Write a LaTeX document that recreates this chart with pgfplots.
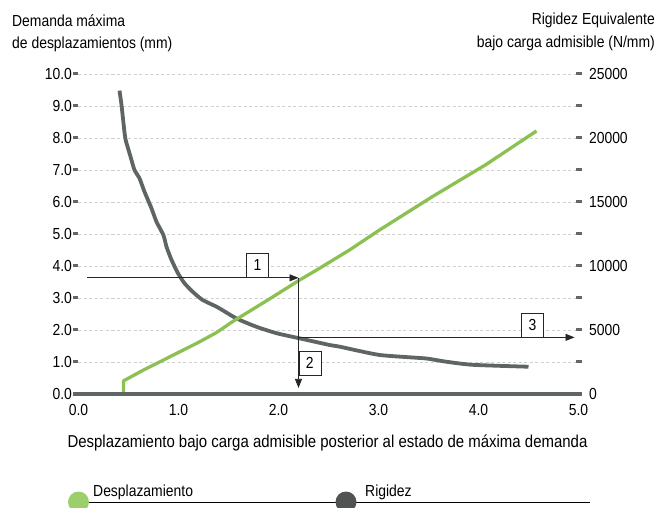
\documentclass[border=0pt]{standalone}
\usepackage{fontspec}
\setmainfont{Liberation Sans}[FakeStretch=0.87]
\usepackage{pgfplots}
\pgfplotsset{compat=1.18}
\usetikzlibrary{arrows.meta}
\definecolor{dgreen}{HTML}{8CC152}
\definecolor{dgray}{HTML}{5E6564}
\definecolor{lgreen}{HTML}{9CCF6C}
\definecolor{cgray}{HTML}{505352}
\definecolor{gridc}{HTML}{D0D0D0}
\definecolor{tickc}{HTML}{666666}
\newcommand\fs{\fontsize{16pt}{19pt}\selectfont}
\begin{document}
\begin{tikzpicture}[font=\fs]
\useasboundingbox (-78.5pt,-114pt) rectangle (587.5pt,394pt);
% right axis: grid + Rigidez
\begin{axis}[at={(0pt,0pt)}, anchor=south west, scale only axis,
  width=500pt, height=320pt, xmin=0, xmax=5, ymin=0, ymax=25000,
  axis line style={draw=none}, clip=false,
  ytick={0,2500,...,25000}, yticklabels={0,,5000,,10000,,15000,,20000,,25000},
  scaled y ticks=false, ytick pos=right, xtick=\empty,
  tick align=center, major tick length=6pt,
  ytick style={line width=3pt, draw=tickc},
  ymajorgrids, major grid style={gridc, line width=0.7pt, dash pattern=on 3pt off 2.5pt},
  yticklabel style={font=\fs, xshift=4pt},
  /pgf/number format/assume math mode=true]
\addplot[dgray, line width=3.8pt, line join=round, line cap=butt, smooth, tension=0.35] coordinates {
(0.41,23700) (0.43,22580) (0.45,21150) (0.47,19900) (0.52,18550) (0.56,17500)
(0.61,16850) (0.66,15800) (0.73,14500) (0.78,13450) (0.85,12400) (0.88,11500)
(0.93,10480) (0.995,9430) (1.06,8650) (1.14,8000) (1.24,7350) (1.39,6780)
(1.58,5900) (1.78,5250) (1.98,4750) (2.21,4350) (2.51,3830) (2.61,3700)
(3.01,3050) (3.47,2780) (3.67,2530) (3.94,2280) (4.50,2130)};
\end{axis}
% left axis: Desplazamiento
\begin{axis}[at={(0pt,0pt)}, anchor=south west, scale only axis,
  width=500pt, height=320pt, xmin=0, xmax=5, ymin=0, ymax=10,
  axis line style={draw=none}, clip=false,
  ytick={0,1,...,10}, ytick pos=left, xtick={0,1,...,5}, xtick pos=bottom,
  tick align=outside, major tick length=5pt,
  ytick style={line width=3pt, draw=tickc}, xtick style={draw=none},
  yticklabel style={font=\fs, xshift=2pt, /pgf/number format/.cd, fixed, fixed zerofill, precision=1},
  xticklabel style={font=\fs, yshift=-2pt, /pgf/number format/.cd, fixed, fixed zerofill, precision=1},
  /pgf/number format/assume math mode=true]
\addplot[dgreen, line width=3.3pt, line join=round] coordinates {
(0.45,0) (0.45,0.41) (0.65,0.75) (0.88,1.11) (1.21,1.63) (1.38,1.92) (1.54,2.26)
(1.91,2.97) (2.21,3.56) (2.39,3.89) (2.71,4.5) (3.01,5.125) (3.54,6.17)
(4.07,7.16) (4.58,8.22)};
\draw[line width=4pt, dgray] (axis cs:-0.058,0) -- (axis cs:5.035,0);
\draw[black!85, line width=0.8pt, -{Triangle[length=9pt,width=7pt]}] (axis cs:0.085,3.63) -- (axis cs:2.2,3.63);
\draw[black!85, line width=0.8pt, -{Triangle[length=9pt,width=7pt]}] (axis cs:2.2,3.63) -- (axis cs:2.2,0.19);
\draw[black!85, line width=0.8pt, -{Triangle[length=9pt,width=7pt]}] (axis cs:2.2,1.77) -- (axis cs:4.96,1.77);
\node[draw=black!85, line width=0.7pt, fill=white, inner sep=0pt, minimum width=22pt, minimum height=24pt, anchor=south] at (axis cs:1.79,3.63) {1};
\node[draw=black!85, line width=0.7pt, fill=white, inner sep=0pt, minimum width=22pt, minimum height=24pt, anchor=north west] at (axis cs:2.2,1.35) {2};
\node[draw=black!85, line width=0.7pt, fill=white, inner sep=0pt, minimum width=22pt, minimum height=24pt, anchor=south] at (axis cs:4.54,1.77) {3};
\end{axis}
% titles
\node[anchor=base west, inner sep=0pt] at (-66.5pt,367.3pt) {Demanda máxima};
\node[anchor=base west, inner sep=0pt] at (-66.5pt,345.7pt) {de desplazamientos (mm)};
\node[anchor=base east, inner sep=0pt] at (576.5pt,369pt) {Rigidez Equivalente};
\node[anchor=base east, inner sep=0pt] at (576.5pt,346pt) {bajo carga admisible (N/mm)};
\node[anchor=base, inner sep=0pt, font=\fontsize{17.2pt}{20pt}\selectfont] at (249pt,-53pt) {Desplazamiento bajo carga admisible posterior al estado de máxima demanda};
% legend
\draw[black, line width=0.9pt] (0pt,-108pt) -- (511.5pt,-108pt);
\fill[lgreen] (0pt,-108pt) circle (10.5pt);
\fill[cgray] (267.5pt,-108pt) circle (10.5pt);
\node[anchor=base west, inner sep=0pt] at (14.5pt,-102pt) {Desplazamiento};
\node[anchor=base west, inner sep=0pt] at (286.5pt,-102pt) {Rigidez};
\end{tikzpicture}
\end{document}
